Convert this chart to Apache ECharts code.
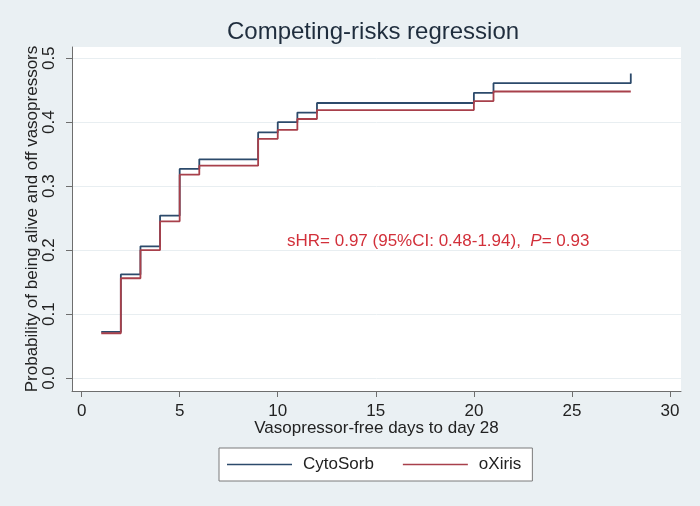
<!DOCTYPE html>
<html>
<head>
<meta charset="utf-8">
<script src="https://cdn.jsdelivr.net/npm/echarts@6/dist/echarts.min.js"></script>
<style>
  html, body { margin: 0; padding: 0; background: #eaf0f3; }
  #main { width: 700px; height: 506px; }
</style>
</head>
<body>
<div id="main"></div>
<script>
// step times (days) and cumulative probabilities
const days = [1, 2, 3, 4, 5, 6, 9, 10, 11, 12, 20, 21, 28];
const cytosorb = [0.072, 0.162, 0.206, 0.254, 0.327, 0.342, 0.384, 0.400, 0.415, 0.430, 0.446, 0.461, 0.476];
const oxiris = [0.070, 0.156, 0.200, 0.245, 0.318, 0.332, 0.374, 0.388, 0.405, 0.419, 0.433, 0.448, 0.448];

const xTicks = [0, 5, 10, 15, 20, 25, 30];
const yTicks = [0, 0.1, 0.2, 0.3, 0.4, 0.5];

const font = 'Liberation Sans, Arial, sans-serif';

const myChart = echarts.init(document.getElementById('main'));

const toPairs = vals => days.map((d, i) => [d, vals[i]]);

const option = {
    backgroundColor: '#eaf0f3',
    animation: false,
    textStyle: { fontFamily: font },
    title: {
        text: 'Competing-risks regression',
        left: 222,
        top: 15,
        textStyle: { fontSize: 24, fontWeight: 'normal', color: '#1f2d3d', fontFamily: font }
    },
    grid: {
        left: 72, right: 19, top: 47, bottom: 115,
        show: true, backgroundColor: '#ffffff', borderWidth: 0
    },
    legend: {
        left: 219, top: 448,
        padding: [8, 11, 8, 8],
        icon: 'rect',
        itemWidth: 65, itemHeight: 1.5,
        itemGap: 29,
        backgroundColor: '#ffffff',
        borderColor: '#7a7a7a', borderWidth: 1,
        textStyle: { fontSize: 17, color: '#222', fontFamily: font, lineHeight: 17, padding: [0, 0, 0, 6] },
        data: ['CytoSorb', 'oXiris']
    },
    xAxis: {
        type: 'value',
        min: -0.49, max: 30.56,
        name: 'Vasopressor-free days to day 28',
        nameLocation: 'middle',
        nameGap: 29,
        nameMoveOverlap: false,
        nameTextStyle: { fontSize: 17, color: '#222', fontFamily: font },
        axisLine: { onZero: false, lineStyle: { color: '#6e6e6e', width: 1 } },
        axisTick: { show: true, length: 6, lineStyle: { color: '#6e6e6e' }, customValues: xTicks },
        axisLabel: { fontSize: 17, color: '#222', margin: 12, customValues: xTicks },
        splitLine: { show: false }
    },
    yAxis: {
        type: 'value',
        min: -0.0203, max: 0.5176,
        name: 'Probability of being alive and off vasopressors',
        nameLocation: 'middle',
        nameGap: 31,
        nameMoveOverlap: false,
        nameTextStyle: { fontSize: 17, color: '#222', fontFamily: font },
        axisLine: { show: true, onZero: false, lineStyle: { color: '#6e6e6e', width: 1 } },
        axisTick: { show: true, length: 6, lineStyle: { color: '#6e6e6e' }, customValues: yTicks },
        axisLabel: {
            fontSize: 17, color: '#222', rotate: 90, margin: 14,
            customValues: yTicks,
            formatter: v => v.toFixed(1)
        },
        splitLine: { show: true, lineStyle: { color: '#e8eef1', width: 1 } }
    },
    graphic: [{
        type: 'text',
        left: 287, top: 233,
        style: {
            text: '{a|sHR= 0.97 (95%CI: 0.48-1.94),  }{b|P}{a|= 0.93}',
            rich: {
                a: { fontSize: 17, fill: '#d2303a', fontFamily: font },
                b: { fontSize: 17, fill: '#d2303a', fontStyle: 'italic', fontFamily: font }
            }
        }
    }],
    series: [
        {
            name: 'CytoSorb', type: 'line', step: 'end', symbol: 'none',
            lineStyle: { color: '#2c4a6b', width: 1.8 },
            itemStyle: { color: '#2c4a6b' },
            data: toPairs(cytosorb)
        },
        {
            name: 'oXiris', type: 'line', step: 'end', symbol: 'none',
            lineStyle: { color: '#a8404b', width: 1.8 },
            itemStyle: { color: '#a8404b' },
            data: toPairs(oxiris)
        }
    ]
};
myChart.setOption(option);
</script>
</body>
</html>
